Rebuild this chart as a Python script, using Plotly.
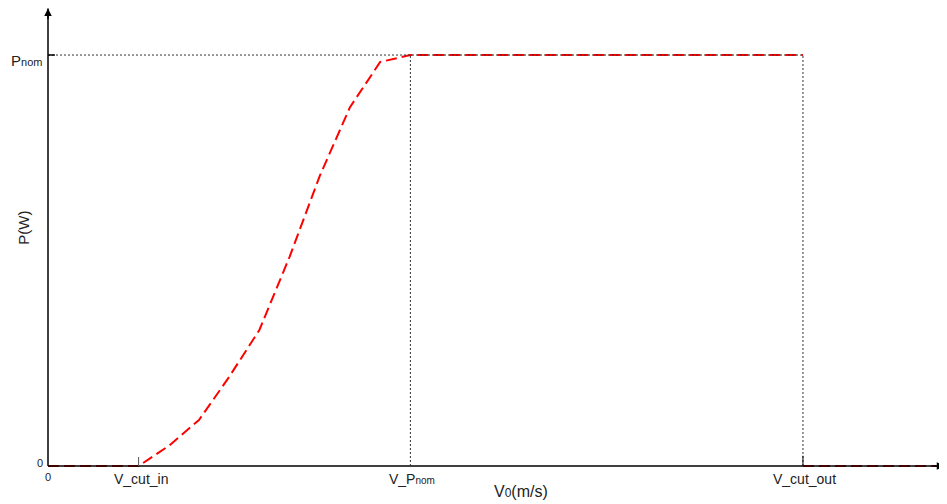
import plotly.graph_objects as go

# ---- data ----
V_CUT_IN = 3
V_PNOM = 12
V_CUT_OUT = 25
V_END = 29.6
P_NOM = 1.0

wind_speed = [0, 3, 4, 5, 6, 7, 8, 9, 10, 11, 12, 25, None, 25, V_END]
power = [0, 0, 0.049, 0.112, 0.217, 0.331, 0.509, 0.706, 0.873, 0.983, 1.0, 1.0, None, 0, 0]

x_tick_vals = [V_CUT_IN, V_PNOM, V_CUT_OUT]
x_tick_text = ["V_cut_in", "V_P<span style='font-size:10px'>nom</span>", "V_cut_out"]

X_RANGE = [-0.265, 29.77]
Y_RANGE = [-0.00973, 1.1144]
Y_TOP = 1.113
X_AXIS_END = 29.68

FONT = "Arial, Liberation Sans, sans-serif"

fig = go.Figure()
fig.add_trace(go.Scatter(
    x=wind_speed, y=power, mode="lines",
    line=dict(color="#ff0000", width=2, dash="11px,5px"),
    connectgaps=False, hoverinfo="skip", showlegend=False,
))

shapes = []
# axis lines
shapes.append(dict(type="line", xref="x", yref="y", x0=0, x1=X_AXIS_END, y0=0, y1=0,
                   line=dict(color="black", width=1.5)))
shapes.append(dict(type="line", xref="x", yref="y", x0=0, x1=0, y0=0, y1=Y_TOP,
                   line=dict(color="black", width=1.5)))
# dotted guide lines
dot = dict(color="#333333", width=1, dash="2px,2px")
shapes.append(dict(type="line", xref="x", yref="y", x0=0, x1=V_CUT_OUT, y0=P_NOM, y1=P_NOM, line=dot))
shapes.append(dict(type="line", xref="x", yref="y", x0=V_PNOM, x1=V_PNOM, y0=0, y1=P_NOM, line=dot))
shapes.append(dict(type="line", xref="x", yref="y", x0=V_CUT_OUT, x1=V_CUT_OUT, y0=0, y1=P_NOM, line=dot))
# tick marks
shapes.append(dict(type="line", xref="x", yref="y", x0=V_CUT_IN, x1=V_CUT_IN, y0=0, y1=0.022,
                   line=dict(color="#555555", width=1)))
shapes.append(dict(type="line", xref="x", yref="y", x0=V_CUT_OUT, x1=V_CUT_OUT, y0=0, y1=0.025,
                   line=dict(color="black", width=1)))
shapes.append(dict(type="line", xref="x", yref="y", x0=0, x1=0.23, y0=P_NOM, y1=P_NOM,
                   line=dict(color="black", width=1.5)))

ann = []
# arrowheads
ann.append(dict(x=X_AXIS_END, y=0, xref="x", yref="y", ax=-12, ay=0, text="", showarrow=True,
                arrowhead=2, arrowsize=1, arrowwidth=1.5, arrowcolor="black"))
ann.append(dict(x=0, y=Y_TOP, xref="x", yref="y", ax=0, ay=12, text="", showarrow=True,
                arrowhead=2, arrowsize=1, arrowwidth=1.5, arrowcolor="black"))
# x tick labels
for v, t in zip(x_tick_vals, x_tick_text):
    ann.append(dict(x=v, y=0, xref="x", yref="y", text=t, showarrow=False,
                    xanchor="center", yanchor="top", yshift=-3, xshift=2,
                    font=dict(family=FONT, size=14, color="#222")))
# zero labels
ann.append(dict(x=0, y=0, xref="x", yref="y", text="0", showarrow=False,
                xanchor="center", yanchor="top", yshift=-3,
                font=dict(family=FONT, size=11, color="#222")))
ann.append(dict(x=0, y=0, xref="x", yref="y", text="0", showarrow=False,
                xanchor="right", yanchor="middle", xshift=-3, yshift=3,
                font=dict(family=FONT, size=11, color="#222")))
# Pnom label
ann.append(dict(x=0, y=P_NOM, xref="x", yref="y",
                text="P<span style='font-size:11px'>nom</span>", showarrow=False,
                xanchor="right", yanchor="middle", xshift=-4, yshift=-5,
                font=dict(family=FONT, size=15, color="#222")))
# axis titles
ann.append(dict(x=(V_PNOM + V_CUT_OUT) / 2 - 2.85, y=0, xref="x", yref="y",
                text="V<span style='font-size:12px'>0</span>(m/s)",
                showarrow=False, xanchor="center", yanchor="top", yshift=-15,
                font=dict(family=FONT, size=16, color="#222")))
ann.append(dict(x=0, y=0.58, xref="x", yref="y", text="P(W)", showarrow=False, textangle=-90,
                xanchor="center", yanchor="middle", xshift=-24,
                font=dict(family=FONT, size=15, color="#222")))

fig.update_layout(
    width=939, height=496,
    margin=dict(l=32, r=0, t=0, b=34),
    paper_bgcolor="white", plot_bgcolor="white",
    xaxis=dict(range=X_RANGE, visible=False, fixedrange=True),
    yaxis=dict(range=Y_RANGE, visible=False, fixedrange=True),
    shapes=shapes, annotations=ann, showlegend=False,
)

fig.write_html("out.html")
